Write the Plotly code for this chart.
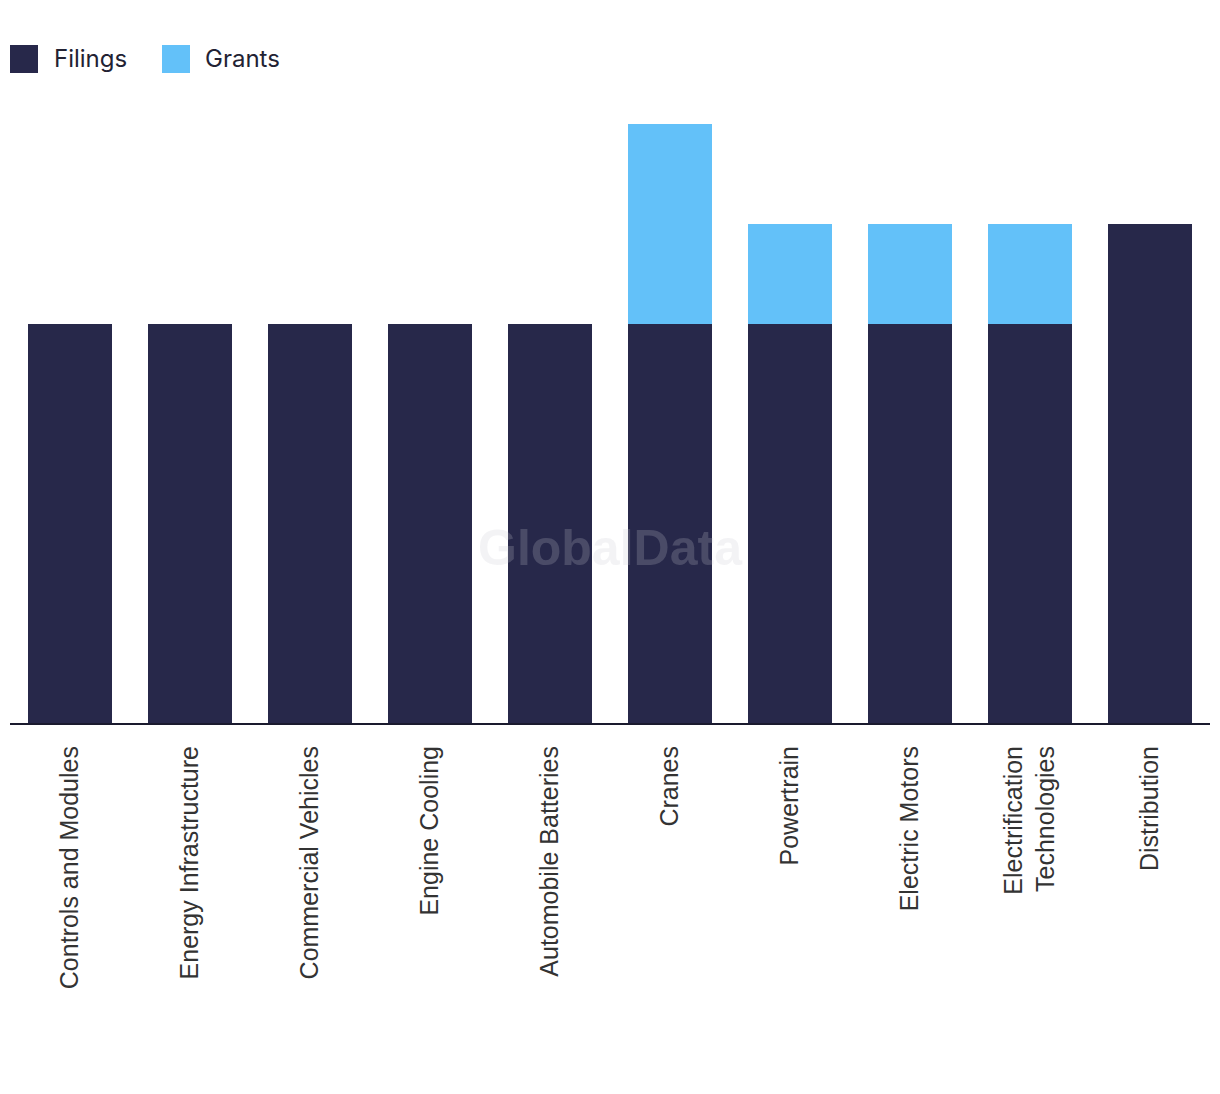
import plotly.graph_objects as go

categories = ["Controls and Modules", "Energy Infrastructure", "Commercial Vehicles",
              "Engine Cooling", "Automobile Batteries", "Cranes", "Powertrain",
              "Electric Motors", "Electrification<br>Technologies", "Distribution"]
filings = [4, 4, 4, 4, 4, 4, 4, 4, 4, 5]
grants = [0, 0, 0, 0, 0, 2, 1, 1, 1, 0]

NAVY = "#27284a"
BLUE = "#63c1f9"

fig = go.Figure()
fig.add_trace(go.Bar(x=categories, y=filings, name="Filings", marker_color=NAVY,
                     marker_line_width=0, showlegend=False))
fig.add_trace(go.Bar(x=categories, y=grants, name="Grants", marker_color=BLUE,
                     marker_line_width=0, showlegend=False))

W, H = 1220, 1094
ml, mr, mt, mb = 10, 10, 124, 371

def px_x(x):
    return (x - ml) / (W - ml - mr)

def px_y(y):
    return (H - mb - y) / (H - mt - mb)

shapes = []
annotations = []
legend_items = [("Filings", NAVY, 10, 52), ("Grants", BLUE, 162, 203)]
for name, col, sx, tx in legend_items:
    shapes.append(dict(type="rect", xref="paper", yref="paper",
                       x0=px_x(sx), x1=px_x(sx + 28), y0=px_y(73), y1=px_y(45),
                       fillcolor=col, line_width=0))
    annotations.append(dict(text=name, xref="paper", yref="paper", x=px_x(tx), y=px_y(58),
                            xanchor="left", yanchor="middle", showarrow=False,
                            font=dict(family="Inter", size=24, color="#222233")))

annotations.append(dict(text="<b>GlobalData</b>", xref="paper", yref="paper",
                        x=px_x(610), y=px_y(548), xanchor="center", yanchor="middle",
                        showarrow=False,
                        font=dict(family="Liberation Sans", size=50,
                                  color="rgba(202,202,210,0.22)")))

fig.update_layout(
    barmode="stack",
    bargap=0.3,
    width=W, height=H,
    margin=dict(l=ml, r=mr, t=mt, b=mb, pad=0),
    paper_bgcolor="white",
    plot_bgcolor="white",
    shapes=shapes,
    annotations=annotations,
    xaxis=dict(tickangle=-90, showgrid=False, showline=True, linecolor="#1a1a2e",
               linewidth=2, ticks="", ticklabelstandoff=11,
               tickfont=dict(family="Liberation Sans", size=25, color="#333333")),
    yaxis=dict(range=[0, 6], visible=False, showgrid=False),
)

fig.write_html("out.html")
